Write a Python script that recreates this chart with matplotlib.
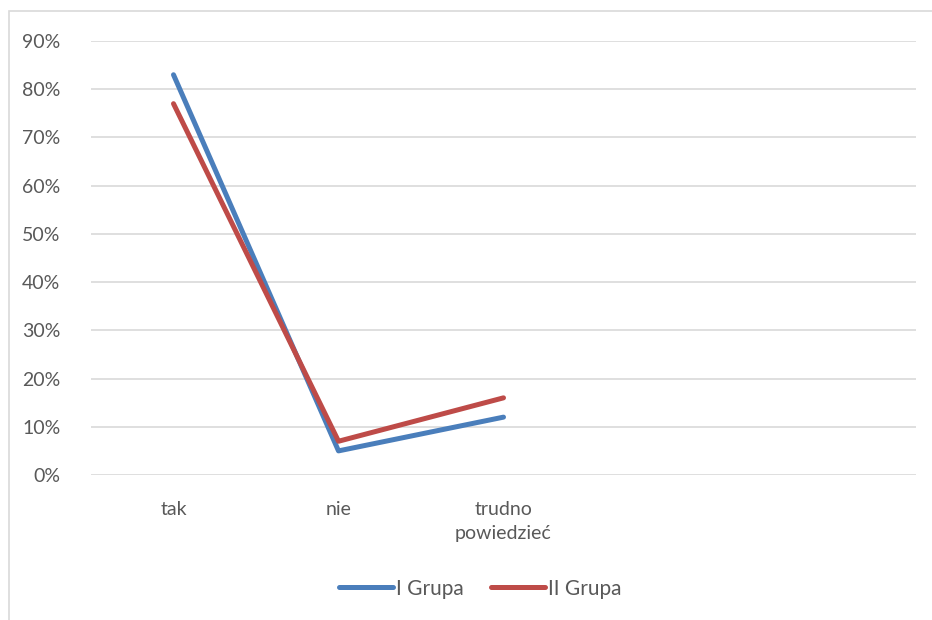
import matplotlib
matplotlib.use("Agg")
import matplotlib.pyplot as plt
from matplotlib.patches import Rectangle

# answers on the x axis (two trailing empty slots keep the axis width)
categories = ["tak", "nie", "trudno\npowiedzieć", "", ""]
group_1 = [0.83, 0.05, 0.12]
group_2 = [0.77, 0.07, 0.16]
series_names = ["I Grupa", "II Grupa"]
y_ticks = [0.0, 0.1, 0.2, 0.3, 0.4, 0.5, 0.6, 0.7, 0.8, 0.9]

plt.rcParams["font.family"] = ["Lato", "DejaVu Sans"]
text_color = "#595959"
grid_color = "#D9D9D9"

fig = plt.figure(figsize=(9.32, 6.2), dpi=100)

# outer chart frame
fig.patches.append(Rectangle((9 / 932, -0.1), 1.1, (620 - 11) / 620 + 0.1,
                             transform=fig.transFigure, fill=False,
                             edgecolor=grid_color, linewidth=1.2))

ax = fig.add_axes([91 / 932, (620 - 475) / 620, (916 - 91) / 932, (475 - 41) / 620])

x = range(len(categories))
ax.plot(x[:len(group_1)], group_1, color="#4A7EBB", linewidth=3.6,
        solid_capstyle="round", solid_joinstyle="round", label=series_names[0], zorder=3)
ax.plot(x[:len(group_2)], group_2, color="#BE4B48", linewidth=3.6,
        solid_capstyle="round", solid_joinstyle="round", label=series_names[1], zorder=3)

ax.set_xlim(-0.5, len(categories) - 0.5)
ax.set_ylim(0, 0.9)
ax.set_yticks(y_ticks)
ax.set_yticklabels([f"{int(round(v * 100))}%" for v in y_ticks])
ax.set_xticks(list(x))
ax.set_xticklabels(categories, linespacing=1.5)

ax.grid(axis="y", color=grid_color, linewidth=1.2)
ax.set_axisbelow(True)
for s in ax.spines.values():
    s.set_visible(False)
ax.tick_params(axis="both", length=0, colors=text_color, labelsize=14)
ax.tick_params(axis="y", pad=22)
ax.tick_params(axis="x", pad=19)

leg = ax.legend(loc="center", bbox_to_anchor=(0.472, -0.262), ncol=2, frameon=False,
                fontsize=15, handlelength=2.6, handletextpad=0.15, columnspacing=1.3)
for t in leg.get_texts():
    t.set_color(text_color)

fig.savefig("out.png", dpi=100)
